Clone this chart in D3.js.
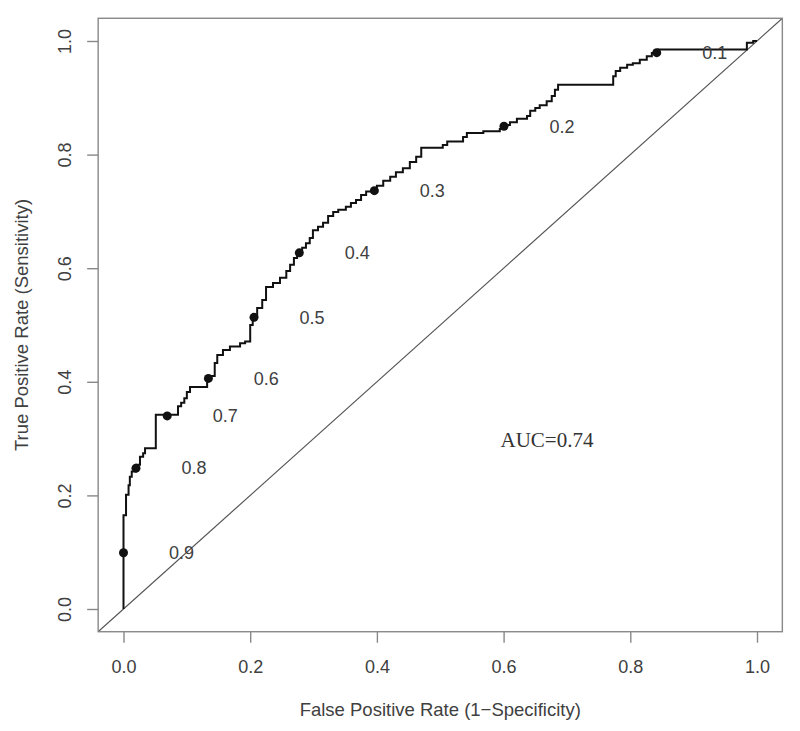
<!DOCTYPE html>
<html>
<meta charset="utf-8">
<style>
    body { margin: 0; background: #fff; }
    text { font-family: "Liberation Sans", Arial, sans-serif; fill: #404040; }
    .auc { font-family: "Liberation Serif", "Times New Roman", serif; fill: #333; }
</style>
<body>
<script src="https://cdn.jsdelivr.net/npm/d3@7"></script>
<div id="chart"></div>
<script>
// ROC staircase: each point is the top of a riser
var fpr = [0, 0, 0.004, 0.008, 0.010, 0.013, 0.020, 0.026, 0.031, 0.034, 0.051,
    0.086, 0.091, 0.096, 0.100, 0.105, 0.132, 0.137, 0.144, 0.148, 0.157, 0.168,
    0.184, 0.192, 0.200, 0.204, 0.211, 0.219, 0.225, 0.236, 0.247, 0.257, 0.263,
    0.269, 0.274, 0.282, 0.288, 0.294, 0.299, 0.307, 0.315, 0.323, 0.331, 0.339,
    0.351, 0.359, 0.367, 0.375, 0.383, 0.400, 0.410, 0.421, 0.430, 0.441, 0.452,
    0.462, 0.470, 0.504, 0.511, 0.536, 0.542, 0.568, 0.594, 0.600, 0.610, 0.621,
    0.637, 0.642, 0.650, 0.657, 0.668, 0.676, 0.681, 0.686, 0.773, 0.777, 0.784,
    0.795, 0.804, 0.815, 0.826, 0.834, 0.844, 0.984, 0.994, 1.000];
var tpr = [0, 0.165, 0.201, 0.218, 0.233, 0.242, 0.254, 0.268, 0.274, 0.283, 0.342,
    0.357, 0.363, 0.371, 0.382, 0.391, 0.403, 0.410, 0.433, 0.447, 0.456, 0.462,
    0.468, 0.471, 0.500, 0.516, 0.530, 0.544, 0.567, 0.574, 0.583, 0.595, 0.606,
    0.618, 0.629, 0.636, 0.644, 0.653, 0.667, 0.673, 0.680, 0.692, 0.699, 0.703,
    0.708, 0.715, 0.720, 0.729, 0.735, 0.745, 0.754, 0.761, 0.769, 0.776, 0.787,
    0.796, 0.812, 0.817, 0.823, 0.831, 0.838, 0.841, 0.845, 0.852, 0.857, 0.863,
    0.868, 0.877, 0.882, 0.887, 0.894, 0.903, 0.914, 0.923, 0.938, 0.947, 0.953,
    0.958, 0.961, 0.967, 0.973, 0.979, 0.985, 0.997, 1.000, 1.000];

// cutoff markers
var cutoffs = ["0.9", "0.8", "0.7", "0.6", "0.5", "0.4", "0.3", "0.2", "0.1"];
var cutFpr = [0.0, 0.0197, 0.069, 0.134, 0.206, 0.2775, 0.396, 0.6006, 0.8417];
var cutTpr = [0.099, 0.248, 0.340, 0.406, 0.5135, 0.627, 0.7365, 0.850, 0.9795];

var tickVals = [0, 0.2, 0.4, 0.6, 0.8, 1.0];
var aucLabel = "AUC=0.74";

var W = 800, H = 731;
var svg = d3.select("#chart").append("svg").attr("width", W).attr("height", H);

var x = d3.scaleLinear().domain([0, 1]).range([123.5, 757]);
var y = d3.scaleLinear().domain([0, 1]).range([609, 41]);
var x0 = x(-0.04), x1 = x(1.04), y0 = y(-0.04), y1 = y(1.04);

svg.append("defs").append("clipPath").attr("id", "clip")
    .append("rect").attr("x", x0).attr("y", y1).attr("width", x1 - x0).attr("height", y0 - y1);

// diagonal reference line
svg.append("line")
    .attr("clip-path", "url(#clip)")
    .attr("x1", x(-0.04)).attr("y1", y(-0.04))
    .attr("x2", x(1.04)).attr("y2", y(1.04))
    .attr("stroke", "#555").attr("stroke-width", 1.2);

// roc curve
var pts = fpr.map(function(d, i) { return [d, tpr[i]]; });
var line = d3.line()
    .x(function(d) { return x(d[0]); })
    .y(function(d) { return y(d[1]); })
    .curve(d3.curveStepAfter);
svg.append("path").datum(pts)
    .attr("d", line)
    .attr("fill", "none").attr("stroke", "#111").attr("stroke-width", 2);

// cutoff dots and labels
svg.selectAll(".dot").data(cutoffs).enter().append("circle")
    .attr("cx", function(d, i) { return x(cutFpr[i]); })
    .attr("cy", function(d, i) { return y(cutTpr[i]); })
    .attr("r", 4.5).attr("fill", "#111");
svg.selectAll(".cut").data(cutoffs).enter().append("text")
    .attr("x", function(d, i) { return x(cutFpr[i]) + 58; })
    .attr("y", function(d, i) { return y(cutTpr[i]); })
    .attr("dy", "0.35em")
    .attr("text-anchor", "middle")
    .style("font-size", "18px")
    .text(function(d) { return d; });

// box
svg.append("rect").attr("x", x0).attr("y", y1).attr("width", x1 - x0).attr("height", y0 - y1)
    .attr("fill", "none").attr("stroke", "#888").attr("stroke-width", 1.4);

// axes
var xAxis = svg.append("g").attr("transform", "translate(0," + y0 + ")")
    .call(d3.axisBottom(x).tickValues(tickVals).tickFormat(d3.format(".1f")).tickSize(11).tickPadding(18));
var yAxis = svg.append("g").attr("transform", "translate(" + x0 + ",0)")
    .call(d3.axisLeft(y).tickValues(tickVals).tickFormat(d3.format(".1f")).tickSize(11));
[xAxis, yAxis].forEach(function(g) {
    g.select(".domain").remove();
    g.selectAll("line").attr("stroke", "#888").attr("stroke-width", 1.4);
    g.selectAll("text").style("font-size", "18px").attr("fill", "#404040")
        .style("font-family", "'Liberation Sans', Arial, sans-serif");
});
yAxis.selectAll("text")
    .attr("transform", "rotate(-90)")
    .attr("x", 0).attr("y", -33).attr("dy", "0.35em")
    .attr("text-anchor", "middle");

// titles
svg.append("text").attr("x", (x0 + x1) / 2).attr("y", 710).attr("dy", "0.35em")
    .attr("text-anchor", "middle").style("font-size", "18.5px")
    .text("False Positive Rate (1\u2212Specificity)");
svg.append("text")
    .attr("transform", "translate(22," + (y0 + y1) / 2 + ") rotate(-90)")
    .attr("dy", "0.35em")
    .attr("text-anchor", "middle").style("font-size", "18.5px")
    .text("True Positive Rate (Sensitivity)");

svg.append("text").attr("class", "auc")
    .attr("x", 547).attr("y", 440).attr("dy", "0.35em")
    .attr("text-anchor", "middle").style("font-size", "21px")
    .text(aucLabel);
</script>
</body>
</html>
